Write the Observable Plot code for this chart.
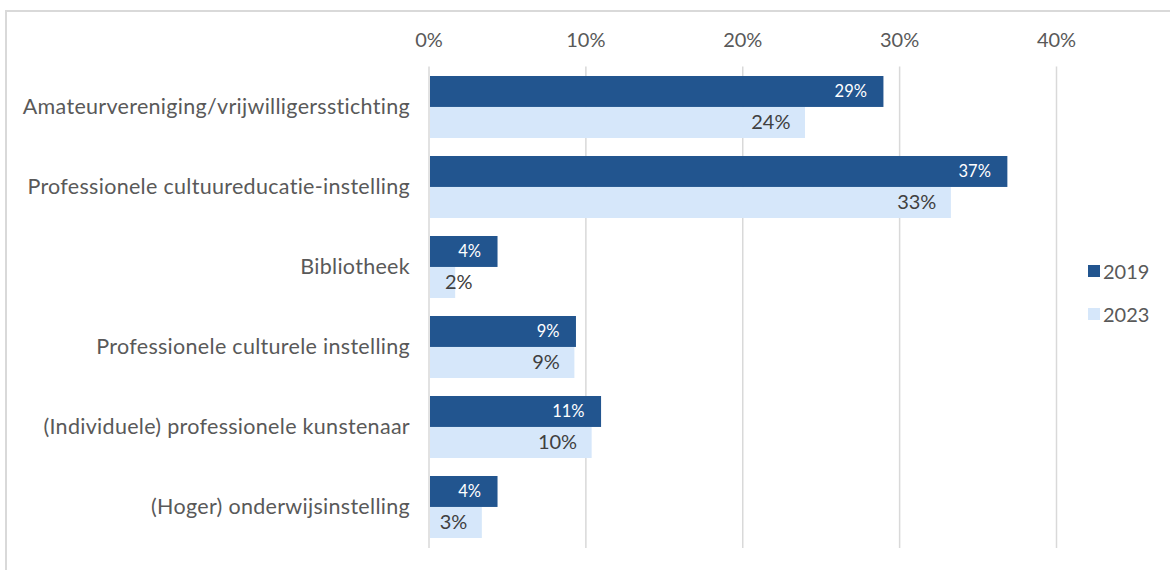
<!DOCTYPE html>
<html>
<head>
<meta charset="utf-8">
<script src="https://cdn.jsdelivr.net/npm/d3@7"></script>
<script src="https://cdn.jsdelivr.net/npm/@observablehq/plot@0.6"></script>
<style>
  html, body { margin: 0; padding: 0; background: #fff; overflow: hidden; }
  body { width: 1170px; height: 570px; position: relative; font-family: Lato, "Open Sans", sans-serif; }
  #frame { position: absolute; left: 5px; top: 10px; width: 1200px; height: 600px; border-left: 2px solid #d9d9d9; border-top: 2px solid #d9d9d9; box-sizing: border-box; }
  #chart { position: absolute; left: 0; top: 0; }
  #chart g[aria-label="y-axis tick label"] text { letter-spacing: 0.3px; }
  #legend { position: absolute; left: 1088px; top: 260px; font-size: 20px; color: #595959; }
  .item { display: flex; align-items: center; height: 22px; margin-bottom: 21px; }
  .sw { width: 12px; height: 12px; margin-right: 3px; }
</style>
</head>
<body>
<div id="frame"></div>
<div id="chart"></div>
<div id="legend"></div>
<script>
const categories = [
  "Amateurvereniging/vrijwilligersstichting",
  "Professionele cultuureducatie-instelling",
  "Bibliotheek",
  "Professionele culturele instelling",
  "(Individuele) professionele kunstenaar",
  "(Hoger) onderwijsinstelling"
];
const years = ["2019", "2023"];
const values2019 = [29.0, 36.9, 4.4, 9.4, 11.0, 4.4];
const values2023 = [24.0, 33.3, 1.7, 9.3, 10.4, 3.4];
const xTicks = [0, 10, 20, 30, 40];
const colors = ["#22558f", "#d6e7fa"];

const rows2019 = categories.map((c, i) => ({category: c, year: "2019", value: values2019[i]}));
const rows2023 = categories.map((c, i) => ({category: c, year: "2023", value: values2023[i]}));
const fmt = d => Math.round(d.value) + "%";
const fits = d => d.value >= 2.5;

const W = 1170, H = 570;
const mTop = 66.5, mBottom = 22, mLeft = 428.5, mRight = 114;
const yOpts = {domain: categories, paddingInner: 0.23, paddingOuter: 0.1};
const bw = Plot.scale({y: {type: "band", ...yOpts, range: [mTop, H - mBottom]}}).bandwidth;

const chart = Plot.plot({
  width: W,
  height: H,
  marginTop: mTop,
  marginBottom: mBottom,
  marginLeft: mLeft,
  marginRight: mRight,
  style: {fontFamily: "Lato, 'Open Sans', sans-serif", color: "#595959", background: "transparent"},
  x: {domain: [0, 40], ticks: xTicks, axis: null, label: null},
  y: {...yOpts, axis: null, label: null},
  marks: [
    Plot.ruleX(xTicks, {stroke: "#d9d9d9", strokeWidth: 1.5}),
    Plot.axisX({anchor: "top", ticks: xTicks, tickSize: 0, tickPadding: 20, tickFormat: d => d + "%", fontSize: 20, fill: "#595959", label: null}),
    Plot.axisY({anchor: "left", tickSize: 0, tickPadding: 19, fontSize: 21.5, fill: "#595959", label: null}),
    Plot.barX(rows2019, {x: "value", y: "category", fill: colors[0], insetBottom: bw / 2, insetLeft: 1.5}),
    Plot.barX(rows2023, {x: "value", y: "category", fill: colors[1], insetTop: bw / 2, insetLeft: 1.5}),
    Plot.text(rows2019, {x: "value", y: "category", text: fmt, dy: -bw / 4, dx: -17, textAnchor: "end", fill: "#ffffff", fontSize: 16.5}),
    Plot.text(rows2023.filter(fits), {x: "value", y: "category", text: fmt, dy: bw / 4, dx: -15, textAnchor: "end", fill: "#404040", fontSize: 20}),
    Plot.text(rows2023.filter(d => !fits(d)), {x: 0, y: "category", text: fmt, dy: bw / 4, dx: 16, textAnchor: "start", fill: "#404040", fontSize: 20})
  ]
});
document.getElementById("chart").appendChild(chart);

const legend = document.getElementById("legend");
years.forEach((y, i) => {
  const item = document.createElement("div");
  item.className = "item";
  item.innerHTML = `<span class="sw" style="background:${colors[i]}"></span><span>${y}</span>`;
  legend.appendChild(item);
});
</script>
</body>
</html>
